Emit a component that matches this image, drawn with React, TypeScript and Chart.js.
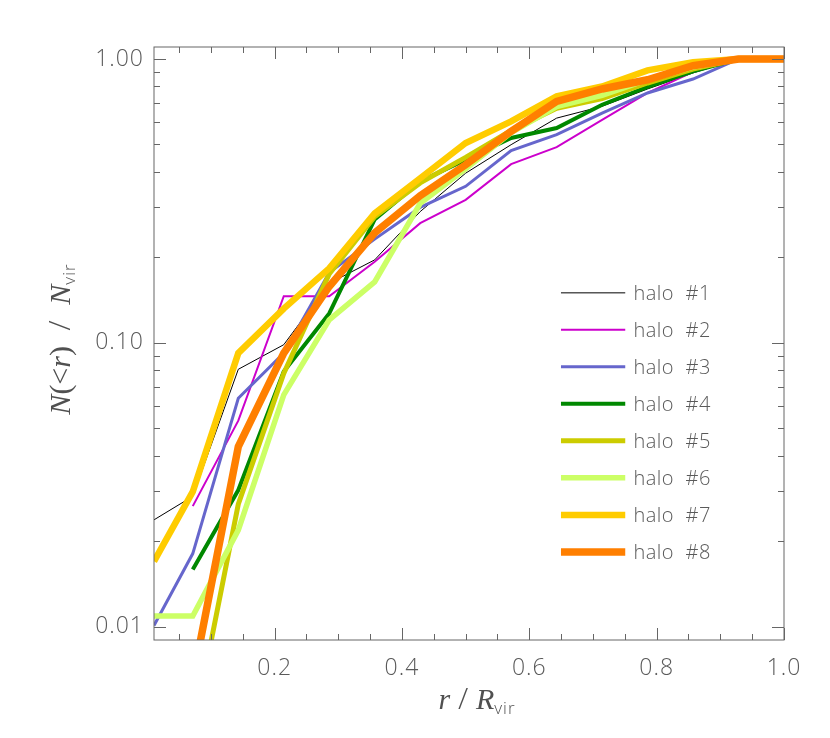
import React, { useEffect, useRef } from 'react';
import { Chart, registerables } from 'chart.js';

Chart.register(...registerables);

// r / R_vir sample positions
const radii = [0.0105, 0.0714, 0.1429, 0.2143, 0.2857, 0.3571, 0.4286, 0.5, 0.5714, 0.6429, 0.7143, 0.7857, 0.8571, 0.9286, 1.0];

// N(<r)/N_vir for each halo
const halo1 = [0.0238, 0.0288, 0.0807, 0.0985, 0.162, 0.196, 0.29, 0.396, 0.499, 0.619, 0.681, 0.784, 0.893, 1.0, 1.0];
const halo2 = [null, 0.0266, 0.0532, 0.146, 0.146, 0.193, 0.264, 0.319, 0.426, 0.489, 0.61, 0.759, 0.9, 1.0, 1.0];
const halo3 = [0.0101, 0.0181, 0.0638, 0.092, 0.177, 0.232, 0.3, 0.356, 0.476, 0.541, 0.645, 0.759, 0.85, 1.0, 1.0];
const halo4 = [null, 0.0159, 0.0303, 0.0792, 0.127, 0.272, 0.37, 0.442, 0.527, 0.571, 0.69, 0.797, 0.905, 1.0, 1.0];
const halo5 = [null, 0.0042, 0.027, 0.078, 0.175, 0.278, 0.366, 0.45, 0.56, 0.67, 0.725, 0.823, 0.922, 1.0, 1.0];
const halo6 = [0.0109, 0.0109, 0.0219, 0.0656, 0.1205, 0.164, 0.31, 0.41, 0.55, 0.68, 0.745, 0.845, 0.937, 1.0, 1.0];
const halo7 = [0.017, 0.0299, 0.092, 0.132, 0.183, 0.286, 0.38, 0.506, 0.603, 0.738, 0.8, 0.912, 0.973, 1.0, 1.0];
const halo8 = [null, 0.0065, 0.0431, 0.092, 0.158, 0.244, 0.33, 0.424, 0.556, 0.709, 0.784, 0.845, 0.947, 1.0, 1.0];

const seriesValues = [halo1, halo2, halo3, halo4, halo5, halo6, halo7, halo8];
const seriesNames = ['halo  #1', 'halo  #2', 'halo  #3', 'halo  #4', 'halo  #5', 'halo  #6', 'halo  #7', 'halo  #8'];
const seriesColors = ['#000000', '#cc00cc', '#6666cc', '#008800', '#cccc00', '#ccff66', '#ffcc00', '#ff7f00'];
const seriesWidths = [1, 2, 3, 4, 5, 5.5, 6.5, 7.5];

const xMin = 0.0105;
const xMax = 1.0;
const yMin = 0.00898;
const yMax = 1.102;

const xMajorTicks = [0.2, 0.4, 0.6, 0.8, 1.0];
const xTickLabels = ['0.2', '0.4', '0.6', '0.8', '1.0'];
const xMinorTicks = [0.05, 0.1, 0.15, 0.25, 0.3, 0.35, 0.45, 0.5, 0.55, 0.65, 0.7, 0.75, 0.85, 0.9, 0.95];
const yMajorTicks = [0.01, 0.1, 1.0];
const yTickLabels = ['0.01', '0.10', '1.00'];
const yMinorTicks = [0.02, 0.03, 0.04, 0.05, 0.06, 0.07, 0.08, 0.09, 0.2, 0.3, 0.4, 0.5, 0.6, 0.7, 0.8, 0.9];

const AXIS_COLOR = '#666666';
const SANS = '"Open Sans", "DejaVu Sans", sans-serif';
const SERIF = '"Liberation Serif", "DejaVu Serif", serif';

const decorPlugin = {
  id: 'decor',
  afterDraw(chart: any) {
    const { ctx, chartArea, scales } = chart;
    const { left, right, top, bottom } = chartArea;
    const xs = scales.x;
    const ys = scales.y;
    ctx.save();
    // frame
    ctx.strokeStyle = AXIS_COLOR;
    ctx.lineWidth = 1;
    ctx.strokeRect(left, top, right - left, bottom - top);
    const tick = (x1: number, y1: number, x2: number, y2: number) => {
      ctx.beginPath();
      ctx.moveTo(x1, y1);
      ctx.lineTo(x2, y2);
      ctx.stroke();
    };
    xMajorTicks.forEach((v) => {
      const p = Math.round(xs.getPixelForValue(v)) + 0.5;
      tick(p, bottom, p, bottom - 12);
      tick(p, top, p, top + 12);
    });
    xMinorTicks.forEach((v) => {
      const p = Math.round(xs.getPixelForValue(v)) + 0.5;
      tick(p, bottom, p, bottom - 6);
      tick(p, top, p, top + 6);
    });
    yMajorTicks.forEach((v) => {
      const p = Math.round(ys.getPixelForValue(v)) + 0.5;
      tick(left, p, left + 12, p);
      tick(right, p, right - 12, p);
    });
    yMinorTicks.forEach((v) => {
      const p = Math.round(ys.getPixelForValue(v)) + 0.5;
      tick(left, p, left + 6, p);
      tick(right, p, right - 6, p);
    });

    // tick labels
    ctx.fillStyle = '#5a5a5a';
    ctx.font = '300 23px ' + SANS;
    (ctx as any).letterSpacing = '1px';
    ctx.textAlign = 'center';
    ctx.textBaseline = 'middle';
    xMajorTicks.forEach((v, i) => {
      ctx.fillText(xTickLabels[i], xs.getPixelForValue(v), bottom + 28);
    });
    ctx.textAlign = 'right';
    yMajorTicks.forEach((v, i) => {
      ctx.fillText(yTickLabels[i], left - 10, ys.getPixelForValue(v));
    });
    (ctx as any).letterSpacing = '0px';

    // axis titles
    const drawRich = (parts: { t: string; f: string; dy?: number; ls?: string }[], cx: number, cy: number) => {
      let total = 0;
      parts.forEach((p) => {
        ctx.font = p.f;
        (ctx as any).letterSpacing = p.ls || '0px';
        total += ctx.measureText(p.t).width;
      });
      let x = cx - total / 2;
      ctx.textAlign = 'left';
      ctx.textBaseline = 'alphabetic';
      parts.forEach((p) => {
        ctx.font = p.f;
        (ctx as any).letterSpacing = p.ls || '0px';
        ctx.fillText(p.t, x, cy + (p.dy || 0));
        x += ctx.measureText(p.t).width;
      });
      (ctx as any).letterSpacing = '0px';
    };
    const IT = 'italic 30px ' + SERIF;
    const UP = '30px ' + SERIF;
    const RM = '300 30px ' + SANS;
    const SUB = '300 17px ' + SANS;
    ctx.fillStyle = '#505050';
    drawRich(
      [
        { t: 'r', f: IT },
        { t: ' / ', f: RM },
        { t: 'R', f: IT },
        { t: 'vir', f: SUB, dy: 5, ls: '1px' },
      ],
      (left + right) / 2 + 8,
      bottom + 69
    );
    ctx.save();
    ctx.translate(60, 339);
    ctx.rotate(-Math.PI / 2);
    drawRich(
      [
        { t: 'N', f: IT },
        { t: '(', f: UP },
        { t: '<', f: UP },
        { t: 'r', f: IT },
        { t: ')', f: UP },
        { t: '  /  ', f: RM },
        { t: 'N', f: IT },
        { t: 'vir', f: SUB, dy: 5, ls: '1px' },
      ],
      0,
      10
    );
    ctx.restore();

    // legend
    const w = right - left;
    const h = bottom - top;
    const lx1 = left + 0.646 * w;
    const lx2 = left + 0.748 * w;
    const tx = left + 0.761 * w;
    ctx.font = '300 20px ' + SANS;
    (ctx as any).letterSpacing = '0.5px';
    ctx.textBaseline = 'middle';
    ctx.textAlign = 'left';
    chart.data.datasets.forEach((ds: any, i: number) => {
      const yy = top + (0.4146 + 0.0624 * i) * h;
      ctx.strokeStyle = ds.borderColor;
      ctx.lineWidth = ds.borderWidth;
      ctx.beginPath();
      ctx.moveTo(lx1, yy);
      ctx.lineTo(lx2, yy);
      ctx.stroke();
      ctx.fillStyle = '#5a5a5a';
      ctx.fillText(ds.label, tx, yy + 1);
    });
    (ctx as any).letterSpacing = '0px';
    ctx.restore();
  },
};

export default function App() {
  const canvasRef = useRef<HTMLCanvasElement | null>(null);

  useEffect(() => {
    const canvas = canvasRef.current;
    if (!canvas) return;
    const datasets = seriesValues.map((vals, i) => ({
      label: seriesNames[i],
      data: radii.map((r, k) => ({ x: r, y: vals[k] })),
      borderColor: seriesColors[i],
      backgroundColor: seriesColors[i],
      borderWidth: seriesWidths[i],
      pointRadius: 0,
      tension: 0,
      spanGaps: false,
      fill: false,
      order: seriesValues.length - i,
    }));
    const chart = new Chart(canvas, {
      type: 'line',
      data: { datasets },
      options: {
        animation: false,
        responsive: false,
        devicePixelRatio: 1,
        layout: { padding: { left: 154, right: 46, top: 47, bottom: 98 } },
        plugins: { legend: { display: false }, tooltip: { enabled: false } },
        scales: {
          x: {
            type: 'linear',
            min: xMin,
            max: xMax,
            display: false,
            grid: { display: false },
          },
          y: {
            type: 'logarithmic',
            min: yMin,
            max: yMax,
            display: false,
            grid: { display: false },
          },
        },
      },
      plugins: [decorPlugin],
    });
    return () => chart.destroy();
  }, []);

  return (
    <div style={{ position: 'fixed', left: 0, top: 0, width: 830, height: 738, background: '#ffffff' }}>
      <canvas ref={canvasRef} width={830} height={738} />
    </div>
  );
}
